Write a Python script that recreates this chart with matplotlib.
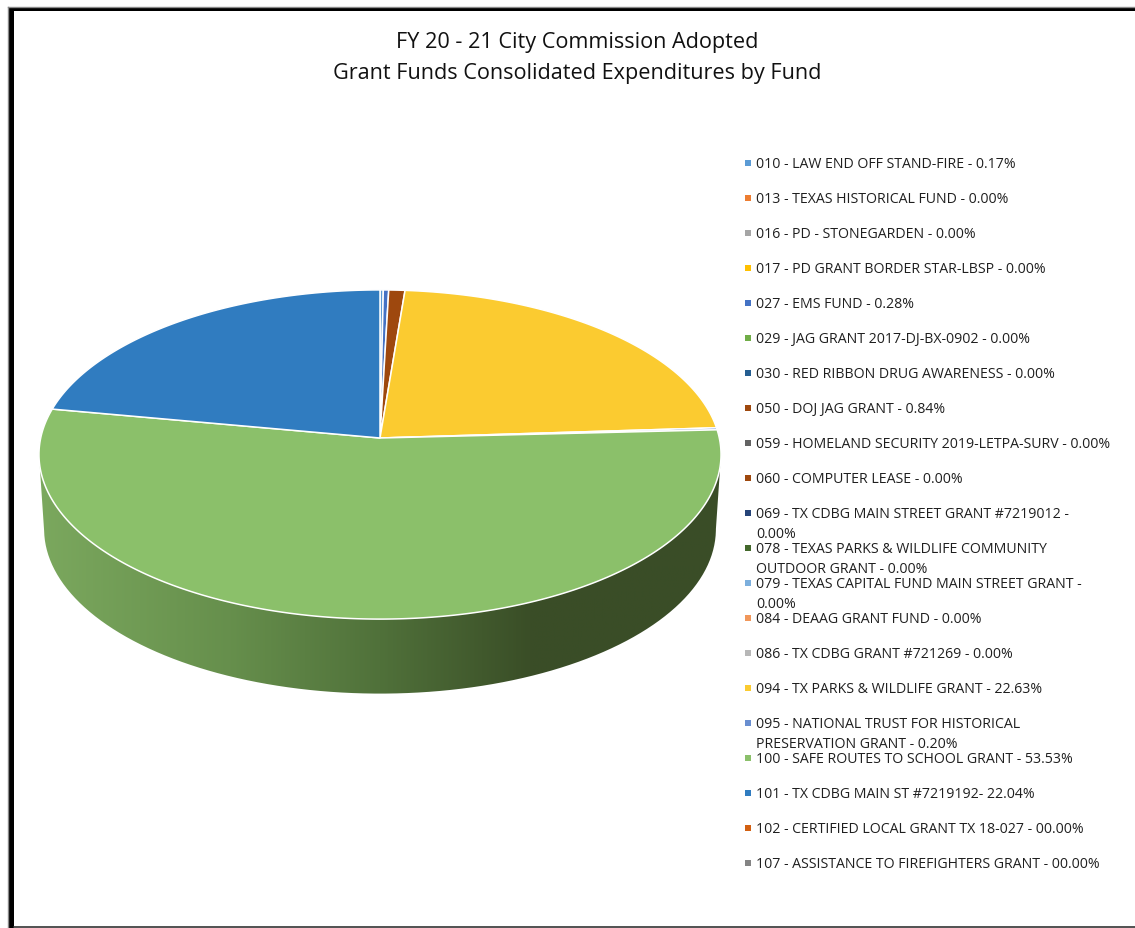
import numpy as np
import matplotlib
matplotlib.use("Agg")
import matplotlib.pyplot as plt
from matplotlib.colors import LinearSegmentedColormap
from matplotlib.patches import PathPatch, Rectangle
from matplotlib.path import Path

funds = ["010 - LAW END OFF STAND-FIRE", "013 - TEXAS HISTORICAL FUND", "016 - PD - STONEGARDEN",
         "017 - PD GRANT BORDER STAR-LBSP", "027 - EMS FUND", "029 - JAG GRANT 2017-DJ-BX-0902",
         "030 - RED RIBBON DRUG AWARENESS", "050 - DOJ JAG GRANT", "059 - HOMELAND SECURITY 2019-LETPA-SURV",
         "060 - COMPUTER LEASE", "069 - TX CDBG MAIN STREET GRANT #7219012",
         "078 - TEXAS PARKS & WILDLIFE COMMUNITY\nOUTDOOR GRANT", "079 - TEXAS CAPITAL FUND MAIN STREET GRANT",
         "084 - DEAAG GRANT FUND", "086 - TX CDBG GRANT #721269", "094 - TX PARKS & WILDLIFE GRANT",
         "095 - NATIONAL TRUST FOR HISTORICAL\nPRESERVATION GRANT", "100 - SAFE ROUTES TO SCHOOL GRANT",
         "101 - TX CDBG MAIN ST #7219192", "102 - CERTIFIED LOCAL GRANT TX 18-027",
         "107 - ASSISTANCE TO FIREFIGHTERS GRANT"]
percent = [0.17, 0, 0, 0, 0.28, 0, 0, 0.84, 0, 0, 0, 0, 0, 0, 0, 22.63, 0.20, 53.53, 22.04, 0, 0]
pct_text = ["0.17%", "0.00%", "0.00%", "0.00%", "0.28%", "0.00%", "0.00%", "0.84%", "0.00%", "0.00%", "0.00%", "0.00%",
            "0.00%", "0.00%", "0.00%", "22.63%", "0.20%", "53.53%", "22.04%", "00.00%", "00.00%"]
separators = [" - "] * 10 + [" -\n", " - ", " -\n"] + [" - "] * 5 + ["- ", " - ", " - "]
colors = ["#5B9BD5", "#ED7D31", "#A5A5A5", "#FFC000", "#4472C4", "#70AD47", "#255E91", "#9E480E", "#636363", "#9E480E",
          "#264478", "#43682B", "#7CAFDD", "#F1975A", "#B7B7B7", "#FBCB30", "#698ED0", "#8BC06A", "#307CC0", "#D26012", "#848484"]
title_lines = ["FY 20 - 21 City Commission Adopted", "Grant Funds Consolidated Expenditures by Fund"]

FONT = "Open Sans"
fig = plt.figure(figsize=(11.35, 9.29), dpi=100)
ax = fig.add_axes([0, 0, 1, 1])
ax.set_xlim(0, 1135)
ax.set_ylim(929, 0)
ax.axis("off")

# perspective projection of the pie's circle into the page
CX, K, A, B, C = 380.0, 339.3, 439.0, -118.9, 0.1003
DEPTH, BOTTOM_SHRINK = 74.5, 0.985

def rim(t, shrink=1.0, dy=0.0):
    u, v = np.sin(t), np.cos(t)
    d = 1 + C * v
    return CX + shrink * K * u / d, (A + B * v) / d + dy

# side wall
ts = np.linspace(np.arccos(-C), 2 * np.pi - np.arccos(-C), 300)
xt, yt = rim(ts)
xb, yb = rim(ts[::-1], BOTTOM_SHRINK, DEPTH)
verts = np.column_stack([np.r_[xt, xb], np.r_[yt, yb]])
side = PathPatch(Path(np.vstack([verts, verts[:1]])), fc="none", ec="none")
ax.add_patch(side)
cmap = LinearSegmentedColormap.from_list("side", [(0, "#7BA85E"), (0.28, "#668F4C"), (0.5, "#50713A"),
                                                  (0.72, "#3A4E27"), (1, "#3A4D27")])
im = ax.imshow(np.linspace(0, 1, 256)[None, :], extent=(39, 721, 700, 440), cmap=cmap, aspect="auto", zorder=1)
im.set_clip_path(side)
ax.set_xlim(0, 1135)
ax.set_ylim(929, 0)

# slices
shares = np.array(percent) / np.sum(percent)
start = 0.0
for share, col in zip(shares, colors):
    if share > 0:
        t = np.linspace(start, start + share * 2 * np.pi, max(3, int(share * 720)))
        x, y = rim(t)
        ax.fill(np.r_[CX, x], np.r_[A, y], fc=col, ec="white", lw=1.1, joinstyle="round", zorder=2)
    start += share * 2 * np.pi

# legend
row_y = 163 + 35 * np.arange(len(funds))
for name, sep, txt, col, y in zip(funds, separators, pct_text, colors, row_y):
    ax.add_patch(Rectangle((745, y - 2.5), 6, 6, fc=col, ec="none", zorder=3))
    for i, line in enumerate(f"{name}{sep}{txt}".split("\n")):
        ax.text(756, y + 1.5 + 20 * i, line, fontsize=10.2, family=FONT, color="#1f1f1f", va="center", ha="left")

# title
for line, y in zip(title_lines, (42, 73)):
    ax.text(577, y, line, fontsize=15.55, family=FONT, color="#111111", ha="center", va="center")

# frame
ax.plot([7.5, 7.5], [929, 7.5], color="#8a8a8a", lw=1)
ax.plot([7.5, 1135], [7.5, 7.5], color="#8a8a8a", lw=1)
ax.add_patch(Rectangle((9, 9), 5, 920, fc="black", ec="none"))
ax.add_patch(Rectangle((9, 9), 1126, 3, fc="black", ec="none"))
ax.plot([14, 1135], [928, 928], color="#333333", lw=1.2)

fig.savefig("out.png", dpi=100)
